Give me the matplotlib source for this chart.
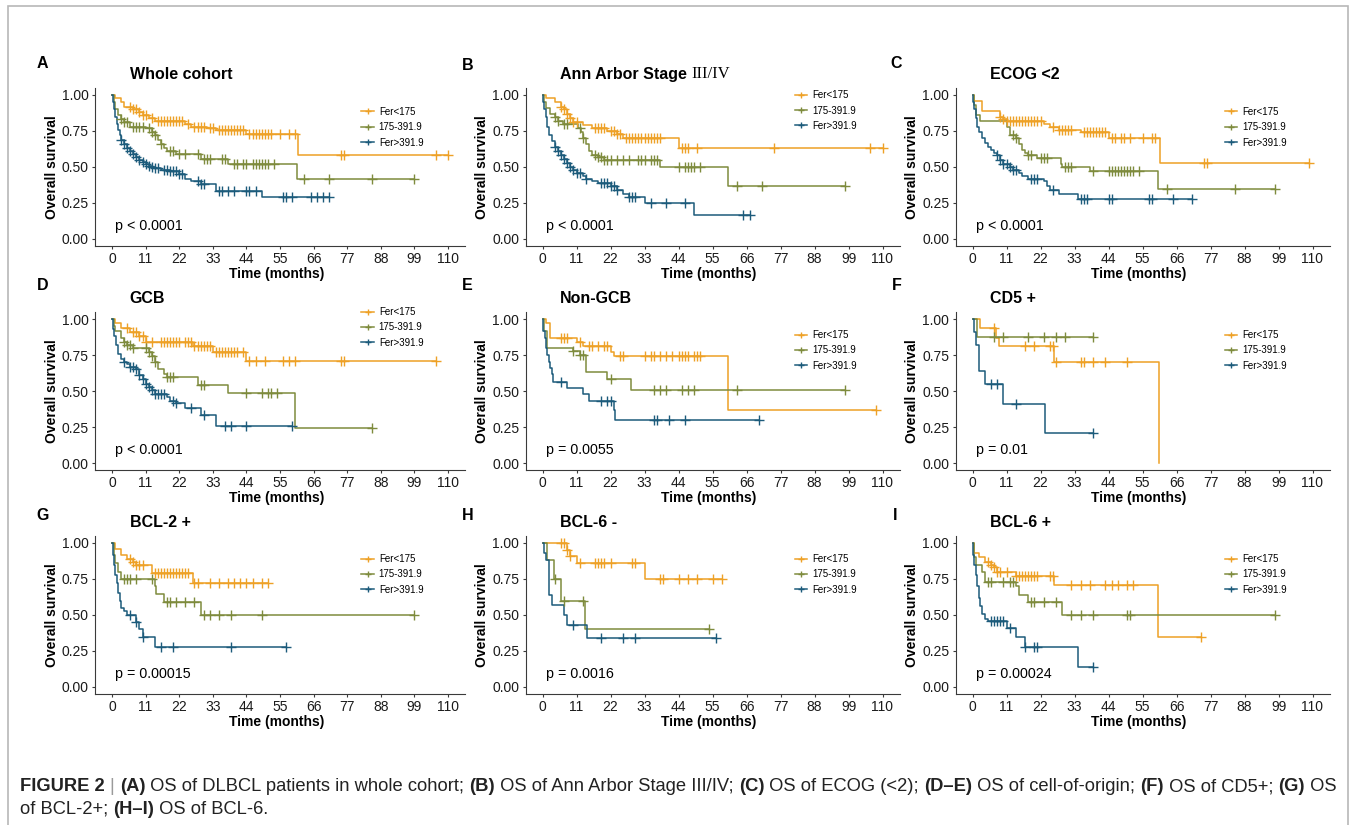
import matplotlib
matplotlib.use("Agg")
import matplotlib.pyplot as plt
import numpy as np
from matplotlib.lines import Line2D
from matplotlib.patches import Rectangle
from matplotlib.font_manager import FontProperties

plt.rcParams['font.family'] = ['Liberation Sans', 'DejaVu Sans']

# ---------------- data ----------------
GROUPS = ['Fer<175', '175-391.9', 'Fer>391.9']
X_TICKS = [0, 11, 22, 33, 44, 55, 66, 77, 88, 99, 110]
Y_TICKS = [0.00, 0.25, 0.50, 0.75, 1.00]
PANEL_LETTERS = ['A', 'B', 'C', 'D', 'E', 'F', 'G', 'H', 'I']
TITLES = ['Whole cohort', 'Ann Arbor Stage ', 'ECOG <2', 'GCB', 'Non-GCB',
          'CD5 +', 'BCL-2 +', 'BCL-6 -', 'BCL-6 +']
PVALUES = ['p < 0.0001', 'p < 0.0001', 'p < 0.0001', 'p < 0.0001', 'p = 0.0055',
           'p = 0.01', 'p = 0.00015', 'p = 0.0016', 'p = 0.00024']

# step times (t), survival after each step (s), censor times (c)
A_lo_t = [1, 3, 4, 7, 9, 10, 12, 14, 24, 26, 31, 34, 44, 61]
A_lo_s = [0.98, 0.95, 0.92, 0.90, 0.88, 0.86, 0.84, 0.82, 0.80, 0.78, 0.77, 0.76, 0.73, 0.58]
A_lo_c = [6, 7, 8, 9, 10, 11, 13, 15, 16, 17, 18, 19, 20, 21, 22, 23, 25, 27, 28, 29, 30, 32, 33,
          35, 36, 37, 38, 39, 40, 41, 42, 43, 45, 46, 47, 48, 49, 50, 51, 52, 55, 58, 60, 75, 76, 106, 110]
A_mid_t = [0.5, 1, 2, 3, 4, 6, 11, 13, 14, 15, 16, 17, 18, 21, 29, 38, 60.5]
A_mid_s = [0.95, 0.90, 0.86, 0.83, 0.81, 0.78, 0.77, 0.745, 0.72, 0.69, 0.66, 0.63, 0.61, 0.59, 0.555, 0.52, 0.42]
A_mid_c = [3, 4, 5, 7, 8, 9, 10, 12, 13, 14, 16, 19, 20, 22, 24, 28, 30, 31, 32, 36, 37, 40, 41, 43,
           44, 46, 47, 48, 49, 50, 51, 53, 63, 71, 85, 99]
A_hi_t = [0.3, 0.6, 1, 1.5, 2, 2.5, 3, 4, 5, 6, 7, 8, 9, 10, 11, 12, 13, 14, 16, 19, 22, 24, 26, 29, 34, 49]
A_hi_s = [0.95, 0.90, 0.85, 0.80, 0.76, 0.72, 0.69, 0.66, 0.63, 0.61, 0.59, 0.57, 0.55, 0.535, 0.52,
          0.51, 0.50, 0.49, 0.48, 0.47, 0.45, 0.42, 0.40, 0.38, 0.33, 0.29]
A_hi_c = [3, 4, 5, 6, 7, 8, 9, 10, 11, 12, 13, 14, 15, 17, 18, 19, 20, 21, 22, 23, 28, 29, 30, 35, 36,
          38, 40, 44, 45, 47, 56, 57, 59, 65, 67, 69, 71]

B_lo_t = [1, 4, 6, 7, 8, 9, 10, 13, 16, 21, 24, 26, 44]
B_lo_s = [0.98, 0.95, 0.92, 0.90, 0.87, 0.84, 0.81, 0.79, 0.77, 0.75, 0.73, 0.70, 0.635]
B_lo_c = [6, 7, 8, 9, 10, 11, 17, 18, 19, 20, 22, 23, 24, 25, 27, 28, 29, 30, 31, 32, 33, 34, 35, 36,
          37, 38, 45, 46, 47, 50, 75, 106, 110]
B_mid_t = [0.5, 1, 2.5, 4, 5, 6.5, 11.5, 12.5, 13, 14, 15, 16, 18, 20, 38, 60]
B_mid_s = [0.95, 0.91, 0.87, 0.845, 0.82, 0.80, 0.77, 0.74, 0.70, 0.66, 0.61, 0.58, 0.57, 0.55, 0.50, 0.37]
B_mid_c = [4, 5, 7, 8, 12, 13, 17, 18, 19, 20, 21, 22, 24, 26, 28, 31, 32, 33, 35, 36, 37, 44, 46, 47,
           48, 49, 51, 63, 71, 98]
B_hi_t = [0.3, 0.6, 1, 1.5, 2, 3, 4, 5, 6, 7, 8, 9, 10, 11, 13, 14, 16, 18, 22, 24, 26, 28, 33, 49]
B_hi_s = [0.95, 0.90, 0.85, 0.78, 0.72, 0.68, 0.64, 0.61, 0.58, 0.555, 0.53, 0.50, 0.48, 0.46, 0.44,
          0.42, 0.40, 0.39, 0.37, 0.34, 0.31, 0.29, 0.25, 0.17]
B_hi_c = [4, 5, 6, 7, 8, 9, 10, 11, 12, 14, 19, 20, 21, 22, 23, 24, 28, 29, 30, 35, 40, 46, 65, 67]

C_lo_t = [0.5, 3, 9, 10, 11, 23, 25, 28, 35, 44, 60.5]
C_lo_s = [0.96, 0.89, 0.85, 0.83, 0.82, 0.80, 0.78, 0.76, 0.74, 0.70, 0.53]
C_lo_c = [9, 10, 11, 12, 13, 14, 15, 16, 17, 18, 19, 20, 21, 22, 26, 28, 29, 30, 31, 32, 36, 37, 38,
          39, 40, 41, 42, 43, 45, 46, 48, 49, 51, 55, 58, 59, 75, 76, 109]
C_mid_t = [0.5, 1, 2.5, 11, 12, 14, 15, 16, 17, 18, 21, 28.5, 29, 38, 60]
C_mid_s = [0.93, 0.86, 0.82, 0.78, 0.72, 0.70, 0.66, 0.62, 0.60, 0.58, 0.56, 0.52, 0.50, 0.47, 0.35]
C_mid_c = [13, 14, 18, 19, 22, 23, 24, 30, 31, 32, 39, 44, 45, 46, 47, 48, 49, 50, 51, 52, 54, 63, 85, 98]
C_hi_t = [0.3, 0.6, 1, 1.5, 2, 3, 4, 5, 6, 7, 8, 9, 10, 12, 13, 15, 16, 18, 23, 24, 25, 28, 34]
C_hi_s = [0.95, 0.90, 0.84, 0.78, 0.74, 0.70, 0.67, 0.64, 0.62, 0.60, 0.58, 0.55, 0.52, 0.50, 0.48,
          0.46, 0.44, 0.42, 0.40, 0.37, 0.34, 0.31, 0.28]
C_hi_c = [8, 9, 10, 11, 12, 13, 14, 19, 20, 21, 26, 35, 36, 37, 44, 45, 57, 58, 65, 71]

D_lo_t = [1, 3, 6, 9, 11, 26.5, 33, 44]
D_lo_s = [0.97, 0.935, 0.91, 0.88, 0.84, 0.81, 0.77, 0.71]
D_lo_c = [5, 7, 8, 9, 10, 11, 13, 16, 17, 18, 19, 20, 21, 22, 24, 25, 26, 27, 28, 29, 30, 31, 32, 34,
          35, 36, 37, 38, 39, 40, 41, 43, 45, 47, 50, 56, 58, 60, 75, 76, 106]
D_mid_t = [0.5, 1, 3, 4, 5, 7, 12, 13, 14, 15, 17, 18, 28, 38, 60]
D_mid_s = [0.95, 0.92, 0.87, 0.84, 0.82, 0.80, 0.77, 0.74, 0.70, 0.65, 0.62, 0.595, 0.545, 0.485, 0.245]
D_mid_c = [4, 5, 6, 7, 11, 12, 13, 14, 18, 19, 20, 29, 30, 44, 49, 51, 52, 54, 85]
D_hi_t = [0.3, 0.7, 1.2, 2, 3, 4, 5, 6, 8, 9, 10, 11, 12, 13, 14, 18, 19, 21, 24, 29, 34]
D_hi_s = [0.93, 0.88, 0.82, 0.76, 0.72, 0.70, 0.69, 0.67, 0.65, 0.61, 0.58, 0.55, 0.53, 0.51, 0.48,
          0.46, 0.43, 0.42, 0.38, 0.33, 0.26]
D_hi_c = [4, 6, 7, 8, 9, 10, 11, 12, 13, 14, 15, 16, 17, 20, 21, 26, 30, 37, 39, 44, 59]

E_lo_t = [1, 2.5, 11, 13, 22, 23, 60]
E_lo_s = [0.97, 0.87, 0.84, 0.81, 0.77, 0.74, 0.37]
E_lo_c = [6, 7, 8, 12, 15, 16, 18, 20, 21, 25, 26, 33, 35, 36, 38, 40, 42, 44, 45, 46, 47, 49, 50, 51, 108]
E_mid_t = [0.5, 1.5, 10, 12, 14, 21, 28.5]
E_mid_s = [0.92, 0.80, 0.78, 0.75, 0.63, 0.58, 0.51]
E_mid_c = [10, 12, 13, 22, 36, 38, 40, 45, 47, 49, 63, 98]
E_hi_t = [0.3, 0.7, 1, 1.5, 2, 2.5, 3, 3.5, 8, 13, 15, 23, 23.5]
E_hi_s = [0.92, 0.87, 0.80, 0.75, 0.70, 0.66, 0.62, 0.56, 0.52, 0.48, 0.43, 0.37, 0.30]
E_hi_c = [6, 19, 21, 22, 36, 37, 41, 46, 70]

F_lo_t = [2.5, 7.5, 8.5, 26.5, 60.3]
F_lo_s = [0.94, 0.87, 0.81, 0.70, 0.0]
F_lo_c = [7, 17, 20, 25, 26, 27, 35, 36, 39, 43, 50]
F_mid_t = [1.5]
F_mid_s = [0.875]
F_mid_c = [7, 10, 18, 23, 27, 30, 39]
F_hi_t = [0.5, 1.2, 2, 4, 10, 23.5]
F_hi_s = [0.91, 0.82, 0.64, 0.55, 0.41, 0.21]
F_hi_c = [6, 8, 14, 39]

G_lo_t = [1, 3, 5, 7, 8, 13, 26.5]
G_lo_s = [0.96, 0.92, 0.89, 0.87, 0.85, 0.79, 0.72]
G_lo_c = [6, 7, 8, 9, 10, 14, 15, 16, 17, 18, 19, 20, 21, 22, 23, 24, 25, 27, 28, 32, 35, 38, 40, 42,
          44, 46, 49, 51]
G_mid_t = [0.5, 1, 2, 3, 14, 14.5, 17, 29]
G_mid_s = [0.92, 0.86, 0.80, 0.75, 0.70, 0.645, 0.59, 0.50]
G_mid_c = [4, 5, 6, 8, 13, 18, 19, 21, 24, 27, 30, 32, 35, 39, 49, 99]
G_hi_t = [0.3, 0.6, 1, 1.5, 2, 2.5, 3, 4, 5, 8, 9, 10, 14]
G_hi_s = [0.92, 0.85, 0.78, 0.72, 0.65, 0.60, 0.55, 0.53, 0.50, 0.45, 0.40, 0.35, 0.28]
G_hi_c = [6, 8, 10, 16, 20, 39, 57]

H_lo_t = [8, 9, 11, 33]
H_lo_s = [0.95, 0.91, 0.86, 0.75]
H_lo_c = [6, 7, 8, 9, 12, 17, 18, 19, 20, 22, 29, 30, 38, 39, 44, 47, 50, 55, 58]
H_mid_t = [1.5, 3.7, 6.1, 13.6]
H_mid_s = [0.88, 0.75, 0.60, 0.40]
H_mid_c = [4, 7, 13, 54]
H_hi_t = [0.5, 1.2, 2, 3, 7, 8, 14.5]
H_hi_s = [0.93, 0.88, 0.64, 0.57, 0.50, 0.43, 0.34]
H_hi_c = [10, 19, 26, 30, 56]

I_lo_t = [0.5, 2, 4, 6, 7, 8, 14, 26.5, 60]
I_lo_s = [0.93, 0.90, 0.87, 0.85, 0.83, 0.80, 0.77, 0.71, 0.35]
I_lo_c = [5, 6, 7, 8, 9, 11, 14, 15, 16, 17, 18, 19, 20, 21, 25, 26, 32, 35, 38, 43, 45, 47, 50, 52, 74]
I_mid_t = [0.5, 1, 3, 4, 14, 15, 18, 29]
I_mid_s = [0.90, 0.85, 0.80, 0.73, 0.70, 0.64, 0.59, 0.50]
I_mid_c = [5, 6, 10, 12, 13, 19, 20, 23, 27, 32, 35, 39, 50, 51, 98]
I_hi_t = [0.3, 0.6, 1, 1.5, 2, 2.5, 3, 4, 5, 11, 14, 17, 34]
I_hi_s = [0.92, 0.85, 0.78, 0.70, 0.62, 0.56, 0.51, 0.47, 0.46, 0.41, 0.35, 0.28, 0.14]
I_hi_c = [6, 7, 8, 9, 10, 12, 17, 20, 21, 39]

CAPTION_LINE1 = [("FIGURE 2", True), (" ", False), ("|", None), (" ", False), ("(A)", True),
                 (" OS of DLBCL patients in whole cohort; ", False), ("(B)", True),
                 (" OS of Ann Arbor Stage III/IV; ", False), ("(C)", True), (" OS of ECOG (<2); ", False),
                 ("(D\u2013E)", True), (" OS of cell-of-origin; ", False), ("(F)", True),
                 (" OS of CD5+; ", False), ("(G)", True), (" OS", False)]
CAPTION_LINE2 = [("of BCL-2+; ", False), ("(H\u2013I)", True), (" OS of BCL-6.", False)]

# ---------------- styling / layout ----------------
COLORS = ['#EEA126', '#7E8B3D', '#1C5B7B']
W, H = 1356, 825
COL_L = [95.2, 525.5, 955.5]
COL_W = [369.6, 374.0, 374.0]
ROW_T = [87.8, 311.8, 535.8]
ROW_H = 158.4
LEG_Y = [0.88, 0.985, 0.88, 1.03, 0.885, 0.885, 0.885, 0.885, 0.885]
LETTER_POS = [(42, 64), (468, 65), (896, 64), (43, 286), (467, 286), (897, 286),
              (43, 516), (468, 516), (895, 516)]

g = globals()
fig = plt.figure(figsize=(W / 100, H / 100), dpi=100)
fig.patch.set_facecolor('white')

# outer border (bottom edge falls outside the image)
fig.patches.append(Rectangle((8 / W, -0.02), (1348 - 8) / W, 1.02 - 6 / H, transform=fig.transFigure,
                             fill=False, edgecolor='#B8B8B8', linewidth=1.2, clip_on=False))

AX_COLOR = '#3a3a3a'
for i, key in enumerate(PANEL_LETTERS):
    r, cidx = divmod(i, 3)
    left = COL_L[cidx] / W
    bottom = 1 - (ROW_T[r] + ROW_H) / H
    ax = fig.add_axes([left, bottom, COL_W[cidx] / W, ROW_H / H])
    ax.set_xlim(-5.5, 115.5)
    ax.set_ylim(-0.05, 1.05)
    for gi, gname in enumerate(['lo', 'mid', 'hi']):
        ts = np.array(g[f'{key}_{gname}_t'], dtype=float)
        ss = np.array(g[f'{key}_{gname}_s'], dtype=float)
        cs = np.array(g[f'{key}_{gname}_c'], dtype=float)
        end = max(ts.max(), cs.max() if len(cs) else 0)
        xt = np.r_[0.0, ts, end]
        yt = np.r_[1.0, ss, ss[-1]]
        ax.step(xt, yt, where='post', color=COLORS[gi], lw=1.1, zorder=3)
        idx = np.searchsorted(ts, cs, side='right') - 1
        cy = np.where(idx < 0, 1.0, ss[np.clip(idx, 0, None)])
        ax.plot(cs, cy, linestyle='none', marker='+', ms=6.5, mew=1.0, color=COLORS[gi], zorder=4)

    for sp in ['top', 'right']:
        ax.spines[sp].set_visible(False)
    for sp in ['left', 'bottom']:
        ax.spines[sp].set_color(AX_COLOR)
        ax.spines[sp].set_linewidth(0.8)
    ax.set_xticks(X_TICKS)
    ax.set_yticks(Y_TICKS)
    ax.set_yticklabels([f'{v:.2f}' for v in Y_TICKS])
    ax.tick_params(axis='both', labelsize=10, length=2.5, width=0.8, color=AX_COLOR,
                   labelcolor='#1a1a1a', pad=2)
    ax.text(0.49, -0.175, 'Time (months)', transform=ax.transAxes, ha='center', va='center',
            fontsize=10, fontweight='bold')
    ax.text(-0.117, 0.5, 'Overall survival', transform=ax.transAxes, rotation=90,
            ha='center', va='center', fontsize=10, fontweight='bold')
    ax.text(1.0, 0.09, PVALUES[i], ha='left', va='center', fontsize=10.3)

    t1 = ax.text(0.093, 1.087, TITLES[i], transform=ax.transAxes, ha='left', va='center',
                 fontsize=11.5, fontweight='bold')
    if key == 'B':
        ax.annotate('III/IV', xy=(1, 0), xycoords=t1, xytext=(0, 0), textcoords='offset points',
                    ha='left', va='bottom', fontsize=12, family=['Liberation Serif', 'DejaVu Serif'])

    handles = [Line2D([], [], color=c, lw=1.1, marker='+', ms=5, mew=1.0) for c in COLORS]
    ax.legend(handles, GROUPS, loc='upper left', bbox_to_anchor=(0.72, LEG_Y[i]),
              frameon=False, fontsize=7, handlelength=1.3, handletextpad=0.5,
              labelspacing=0.55, borderpad=0, borderaxespad=0)

    lx, ly = LETTER_POS[i]
    fig.text(lx / W, 1 - ly / H, key, ha='center', va='center', fontsize=11.5, fontweight='bold')

# caption
renderer = fig.canvas.get_renderer()


def seg_width(s, fp):
    # width in pixels, including leading / trailing spaces
    a = renderer.get_text_width_height_descent('x' + s + 'x', fp, ismath=False)[0]
    b = renderer.get_text_width_height_descent('xx', fp, ismath=False)[0]
    return a - b


def fprop(bold, size):
    return FontProperties(family=['Liberation Sans', 'DejaVu Sans'],
                          weight='bold' if bold else 'normal', size=size)


base = 10.0
tot = sum(seg_width(s, fprop(bool(b), base)) for s, b in CAPTION_LINE1)
cap_size = base * (1338 - 20) / tot


def draw_line(segs, x0, ybase):
    x = x0
    for s, b in segs:
        fp = fprop(bool(b), cap_size)
        color = '#9a9a9a' if b is None else '#222222'
        fig.text(x / W, 1 - ybase / H, s, fontproperties=fp, color=color, ha='left', va='baseline')
        x += seg_width(s, fp)


draw_line(CAPTION_LINE1, 20, 791)
draw_line(CAPTION_LINE2, 20, 814)

fig.savefig('out.png', dpi=100, facecolor='white')
